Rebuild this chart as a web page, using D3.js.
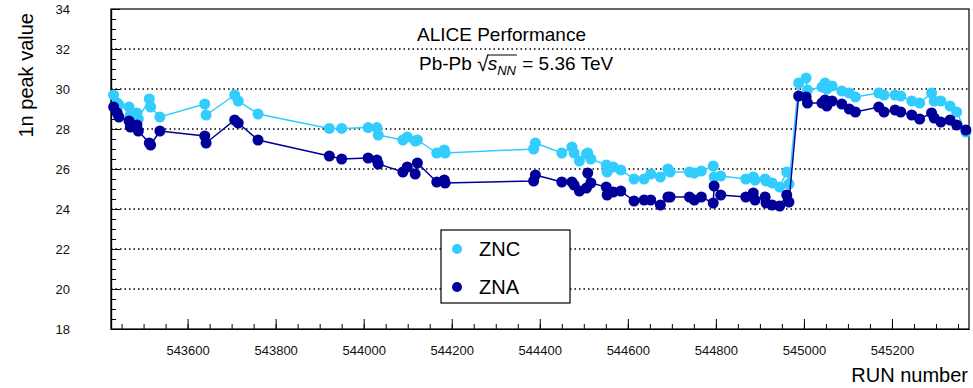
<!DOCTYPE html>
<html lang="en">
<head>
<meta charset="utf-8">
<title>ZN 1n peak</title>
<script src="https://d3js.org/d3.v7.min.js"></script>
<style>
  body { margin: 0; background: #fff; }
  text { font-family: "Liberation Sans", Arial, sans-serif; fill: #000; }
  .tick text { font-size: 13px; fill: #111; }
  .axis path, .axis line { stroke: #000; }
  .pre { white-space: pre; }
</style>
</head>
<body>
<div id="chart"></div>
<script>

// run numbers (x) and peak values
const runs = [543432, 543440, 543444, 543467, 543470, 543485, 543488, 543513, 543516, 543537,
  543639, 543642, 543707, 543715, 543760, 543922, 543950, 544010, 544030, 544033,
  544089, 544099, 544117, 544122, 544166, 544183, 544185, 544386, 544390, 544450,
  544473, 544478, 544490, 544506, 544509, 544516, 544551, 544553, 544567, 544584,
  544614, 544637, 544652, 544674, 544691, 544696, 544740, 544751, 544767, 544794,
  544796, 544811, 544868, 544885, 544889, 544912, 544914, 544928, 544945, 544961,
  544966, 544988, 545005, 545008, 545041, 545048, 545052, 545064, 545086, 545103,
  545117, 545170, 545182, 545207, 545220, 545245, 545263, 545290, 545296, 545311,
  545332, 545347, 545368];

const znc = [29.7, 29.3, 29.2, 29.1, 28.7, 28.8, 28.5, 29.5, 29.1, 28.6,
  29.25, 28.7, 29.7, 29.4, 28.75, 28.03, 28.03, 28.07, 28.07, 27.7,
  27.45, 27.6, 27.4, 27.45, 26.8, 26.95, 26.8, 27.0, 27.3, 26.8,
  27.1, 26.8, 26.4, 26.75, 26.8, 26.5, 26.2, 25.85, 26.1, 25.95,
  25.5, 25.5, 25.75, 25.6, 26.0, 25.85, 25.85, 25.8, 25.9, 26.15,
  25.6, 25.65, 25.5, 25.6, 25.45, 25.5, 25.4, 25.3, 25.1, 25.85,
  25.25, 30.3, 30.55, 29.95, 30.1, 30.3, 30.0, 30.15, 29.9, 29.8,
  29.6, 29.8, 29.7, 29.7, 29.65, 29.4, 29.3, 29.8, 29.4, 29.4,
  29.15, 28.85, 27.85];

const zna = [29.1, 28.8, 28.6, 28.4, 28.1, 28.2, 27.9, 27.3, 27.2, 27.9,
  27.65, 27.3, 28.45, 28.3, 27.45, 26.65, 26.5, 26.55, 26.45, 26.25,
  25.85, 26.1, 25.75, 26.3, 25.35, 25.45, 25.3, 25.4, 25.7, 25.35,
  25.35, 25.2, 24.9, 25.05, 25.8, 25.3, 25.1, 24.7, 24.85, 24.9,
  24.4, 24.45, 24.45, 24.2, 24.6, 24.6, 24.6, 24.45, 24.6, 24.3,
  25.15, 24.7, 24.6, 24.8, 24.45, 24.6, 24.3, 24.2, 24.15, 24.7,
  24.35, 29.65, 29.6, 29.3, 29.3, 29.45, 29.15, 29.4, 29.25, 29.0,
  28.85, 29.1, 28.85, 28.95, 28.85, 28.7, 28.5, 28.8, 28.55, 28.35,
  28.45, 28.2, 27.95];

const xTicks = [543600, 543800, 544000, 544200, 544400, 544600, 544800, 545000, 545200];
const yTicks = [18, 20, 22, 24, 26, 28, 30, 32, 34];

const width = 973;
const height = 388;
const plotLeft = 111, plotRight = 969, plotTop = 9, plotBottom = 329;

const svg = d3.select("#chart").append("svg")
  .attr("width", width)
  .attr("height", height);

const x = d3.scaleLinear().domain([543426, 545375]).range([plotLeft, plotRight]);
const y = d3.scaleLinear().domain([18, 34]).range([plotBottom, plotTop]);

// dotted grid
svg.append("g")
  .selectAll("line")
  .data(yTicks.filter(d => d > 18 && d < 34))
  .enter().append("line")
  .attr("x1", plotLeft).attr("x2", plotRight)
  .attr("y1", d => y(d)).attr("y2", d => y(d))
  .attr("stroke", "#000")
  .attr("stroke-width", 1.3)
  .attr("stroke-dasharray", "1.5,3");

// frame
svg.append("rect")
  .attr("x", plotLeft).attr("y", plotTop)
  .attr("width", plotRight - plotLeft).attr("height", plotBottom - plotTop)
  .attr("fill", "none").attr("stroke", "#000").attr("stroke-width", 1.2);

// x axis, ticks pointing inwards
const xMinor = d3.range(543450, 545375, 50);
svg.append("g").attr("class", "axis")
  .attr("transform", "translate(0," + plotBottom + ")")
  .call(d3.axisBottom(x).tickValues(xMinor).tickSizeInner(-5).tickSizeOuter(0).tickFormat(""));
svg.append("g").attr("class", "axis")
  .attr("transform", "translate(0," + plotBottom + ")")
  .call(d3.axisBottom(x).tickValues(xTicks).tickSizeInner(-10).tickSizeOuter(0)
    .tickPadding(17).tickFormat(d3.format("d")));

// y axis
const yMinor = d3.range(18.5, 34, 0.5);
svg.append("g").attr("class", "axis")
  .attr("transform", "translate(" + plotLeft + ",0)")
  .call(d3.axisLeft(y).tickValues(yMinor).tickSizeInner(-5).tickSizeOuter(0).tickFormat(""));
svg.append("g").attr("class", "axis")
  .attr("transform", "translate(" + plotLeft + ",0)")
  .call(d3.axisLeft(y).tickValues(yTicks).tickSizeInner(-9).tickSizeOuter(0)
    .tickPadding(41).tickFormat(d3.format("d")));

svg.selectAll(".axis .domain").attr("stroke-width", 1.2);

// titles
svg.append("text")
  .attr("transform", "translate(33,13) rotate(-90)")
  .attr("text-anchor", "end")
  .style("font-size", "20px")
  .text("1n peak value");

svg.append("text")
  .attr("x", 968).attr("y", 382)
  .attr("text-anchor", "end")
  .style("font-size", "20px")
  .text("RUN number");

// series
const series = [
  {name: "ZNC", values: znc, color: "#33ccff"},
  {name: "ZNA", values: zna, color: "#000099"}
];

const line = d3.line()
  .x(d => x(d[0]))
  .y(d => y(d[1]));

series.forEach(function (s) {
  const pts = runs.map((r, i) => [r, s.values[i]]);
  svg.append("path")
    .datum(pts)
    .attr("fill", "none")
    .attr("stroke", s.color)
    .attr("stroke-width", 1.5)
    .attr("d", line);
  svg.append("g")
    .selectAll("circle")
    .data(pts)
    .enter().append("circle")
    .attr("cx", d => x(d[0]))
    .attr("cy", d => y(d[1]))
    .attr("r", 5.5)
    .attr("fill", s.color);
});

// legend
const lg = svg.append("g");
lg.append("rect")
  .attr("x", 441).attr("y", 230).attr("width", 129).attr("height", 73)
  .attr("fill", "#fff").attr("stroke", "#000").attr("stroke-width", 1.2);
series.forEach(function (s, i) {
  const cy = 249 + i * 38;
  lg.append("circle").attr("cx", 457).attr("cy", cy).attr("r", 5).attr("fill", s.color);
  lg.append("text").attr("x", 479).attr("y", cy + 7).style("font-size", "20px").text(s.name);
});

// ALICE label
svg.append("text")
  .attr("x", 417).attr("y", 41)
  .style("font-size", "19px")
  .text("ALICE Performance");

let cx = 419;
const base = 70;
const t1 = svg.append("text").attr("class", "pre").attr("x", cx).attr("y", base)
  .style("font-size", "19px").text("Pb-Pb ");
cx += t1.node().getComputedTextLength();
const t2 = svg.append("text").attr("x", cx).attr("y", base + 1).style("font-size", "21px").text("\u221A");
cx += t2.node().getComputedTextLength() - 1;
const rootStart = cx;
const t3 = svg.append("text").attr("x", cx).attr("y", base).style("font-size", "19px")
  .style("font-style", "italic").text("s");
cx += t3.node().getComputedTextLength();
const t4 = svg.append("text").attr("x", cx).attr("y", base + 5).style("font-size", "13px")
  .style("font-style", "italic").text("NN");
cx += t4.node().getComputedTextLength() + 1;
svg.append("line")
  .attr("x1", rootStart).attr("x2", cx)
  .attr("y1", base - 15).attr("y2", base - 15)
  .attr("stroke", "#000").attr("stroke-width", 1);
svg.append("text").attr("class", "pre").attr("x", cx).attr("y", base).style("font-size", "19px")
  .text(" = 5.36 TeV");

</script>
</body>
</html>
